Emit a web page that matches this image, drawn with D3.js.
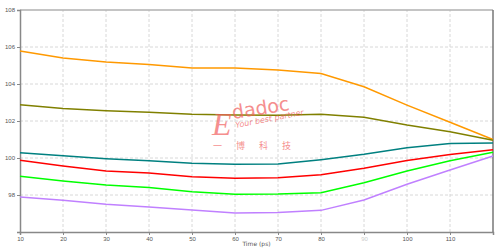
<!DOCTYPE html>
<html>
<head>
<meta charset="utf-8">
<script src="https://cdn.jsdelivr.net/npm/d3@7"></script>
<style>
  body { margin: 0; background: #fff; }
  svg { display: block; font-family: "DejaVu Sans", sans-serif; }
</style>
</head>
<body>
<script>
// data
var times = [10, 20, 30, 40, 50, 60, 70, 80, 90, 100, 110, 120];
var xTicks = [10, 20, 30, 40, 50, 60, 70, 80, 90, 100, 110];
var yTicks = [98, 100, 102, 104, 106, 108];

var orange = [105.78, 105.4, 105.19, 105.05, 104.87, 104.86, 104.76, 104.57, 103.85, 102.86, 101.93, 101.0];
var olive  = [102.88, 102.68, 102.56, 102.47, 102.36, 102.33, 102.31, 102.36, 102.2, 101.78, 101.42, 100.96];
var teal   = [100.29, 100.12, 99.96, 99.85, 99.71, 99.66, 99.67, 99.91, 100.2, 100.56, 100.79, 100.81];
var red    = [99.88, 99.57, 99.3, 99.19, 98.99, 98.9, 98.93, 99.1, 99.44, 99.87, 100.19, 100.44];
var green  = [99.01, 98.76, 98.54, 98.4, 98.18, 98.04, 98.05, 98.12, 98.66, 99.3, 99.85, 100.31];
var purple = [97.89, 97.71, 97.5, 97.35, 97.19, 97.03, 97.06, 97.17, 97.73, 98.58, 99.35, 100.11];

var series = [
    { name: "orange", values: orange, color: "#ff9900" },
    { name: "olive", values: olive, color: "#808000" },
    { name: "teal", values: teal, color: "#008080" },
    { name: "red", values: red, color: "#ff0000" },
    { name: "green", values: green, color: "#00ff00" },
    { name: "purple", values: purple, color: "#c080ff" }
];

var width = 500, height = 250;
var margin = { top: 10, right: 7, bottom: 18, left: 20 };

var svg = d3.select("body")
    .append("svg")
    .attr("width", width)
    .attr("height", height);

var x = d3.scaleLinear()
    .domain([10, 120])
    .range([margin.left, width - margin.right]);

var y = d3.scaleLinear()
    .domain([96, 108])
    .range([height - margin.bottom, margin.top]);

// dashed grid
svg.append("g")
    .selectAll("line")
    .data(xTicks.slice(1))
    .enter()
    .append("line")
    .attr("x1", d => x(d)).attr("x2", d => x(d))
    .attr("y1", y(96)).attr("y2", y(108))
    .attr("stroke", "#d8d8d8")
    .attr("stroke-dasharray", "3,2");

svg.append("g")
    .selectAll("line")
    .data(yTicks.slice(0, -1))
    .enter()
    .append("line")
    .attr("x1", x(10)).attr("x2", x(120))
    .attr("y1", d => y(d)).attr("y2", d => y(d))
    .attr("stroke", "#d8d8d8")
    .attr("stroke-dasharray", "3,2");

// frame: top light, right dark
svg.append("line")
    .attr("x1", x(10)).attr("x2", x(120))
    .attr("y1", y(108)).attr("y2", y(108))
    .attr("stroke", "#b0b0b0").attr("stroke-width", 1.5);
svg.append("line")
    .attr("x1", x(120)).attr("x2", x(120))
    .attr("y1", y(108)).attr("y2", y(96))
    .attr("stroke", "#777").attr("stroke-width", 1.5);

// axes
var xAxis = svg.append("g")
    .attr("transform", "translate(0," + y(96) + ")")
    .call(d3.axisBottom(x).tickValues(xTicks).tickSize(3).tickPadding(2));

var yAxis = svg.append("g")
    .attr("transform", "translate(" + x(10) + ",0)")
    .call(d3.axisLeft(y).tickValues(yTicks).tickSize(3).tickPadding(2));

[xAxis, yAxis].forEach(function (g) {
    g.select(".domain").attr("stroke", "#888").attr("stroke-width", 1.5);
    g.selectAll(".tick line").attr("stroke", "#888");
    g.selectAll(".tick text")
        .attr("fill", "#555")
        .style("font-size", "6px");
});
xAxis.selectAll(".tick text").filter(d => d === 90).attr("fill", "#ccc");

svg.append("text")
    .attr("x", (x(10) + x(120)) / 2)
    .attr("y", 246)
    .attr("text-anchor", "middle")
    .attr("fill", "#555")
    .style("font-size", "6px")
    .text("Time (ps)");

// lines
var line = d3.line()
    .x((d, i) => x(times[i]))
    .y(d => y(d));

svg.append("g")
    .selectAll("path")
    .data(series)
    .enter()
    .append("path")
    .attr("d", d => line(d.values))
    .attr("fill", "none")
    .attr("stroke", d => d.color)
    .attr("stroke-width", 1.5);

// watermark
var wm = svg.append("g")
    .attr("fill", "#f26060")
    .attr("opacity", 0.7);

wm.append("text")
    .attr("x", 212).attr("y", 135)
    .style("font-family", "'Liberation Serif', serif")
    .style("font-style", "italic")
    .style("font-size", "32px")
    .text("E");

wm.append("text")
    .attr("transform", "translate(233,119) rotate(-9)")
    .style("font-family", "'DejaVu Sans', sans-serif")
    .style("font-size", "19px")
    .text("dadoc");

wm.append("text")
    .attr("transform", "translate(236,128) rotate(-11)")
    .style("font-style", "italic")
    .style("font-size", "8px")
    .text("Your best partner");

wm.append("text")
    .attr("x", 213).attr("y", 149)
    .style("font-family", "'Noto Sans CJK SC', sans-serif")
    .style("font-size", "9px")
    .attr("textLength", 78)
    .text("一 博 科 技");
</script>
</body>
</html>
